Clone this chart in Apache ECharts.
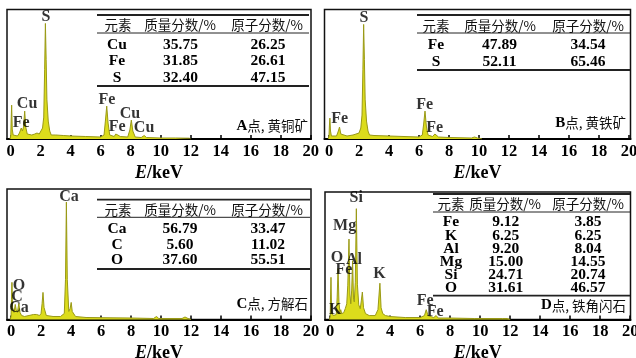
<!DOCTYPE html>
<html>
<head>
<meta charset="utf-8">
<script src="https://cdn.jsdelivr.net/npm/echarts@6/dist/echarts.min.js"></script>
<style>
  html, body { margin: 0; padding: 0; background: #fff; }
  #chart { width: 636px; height: 358px; }
</style>
</head>
<body>
<div id="chart"></div>
<script>
// EDS spectra of four analysis points: energy (keV) vs. relative counts.
const energyTicks = [0, 2, 4, 6, 8, 10, 12, 14, 16, 18, 20];

// Spectrum outlines, [energy keV, counts]
const spectrumA = [
  [-0.05, 0], [0.0, 3], [0.03, 20], [0.06, 34], [0.1, 10], [0.16, 4], [0.45, 3], [0.58, 6], [0.7, 11], [0.78, 8],
  [0.85, 12], [0.93, 28], [1.0, 12], [1.1, 5], [1.4, 4], [1.6, 5], [1.75, 6], [1.9, 5], [2.0, 6],
  [2.12, 11], [2.2, 22], [2.26, 70], [2.31, 116], [2.36, 80], [2.41, 40], [2.5, 18], [2.6, 8],
  [2.7, 4], [3.0, 4], [3.5, 3.5], [4.0, 3], [5.0, 2.5], [6.0, 2], [6.22, 4], [6.31, 18], [6.4, 33],
  [6.49, 16], [6.6, 4], [6.9, 2.5], [7.0, 5], [7.06, 6], [7.14, 4], [7.3, 2.5], [7.8, 2], [7.94, 9], [8.04, 19],
  [8.14, 8], [8.3, 2], [8.7, 1.5], [8.9, 3.5], [9.05, 1.5], [10.0, 1], [11.0, 1], [11.9, 0.8], [12.0, 0]
];
const spectrumB = [
  [-0.05, 0], [0.0, 3], [0.03, 14], [0.06, 21], [0.1, 8], [0.16, 3], [0.5, 3], [0.6, 7], [0.7, 12], [0.79, 5],
  [0.9, 3], [1.2, 3], [1.6, 4], [1.8, 5], [2.0, 6], [2.12, 11], [2.2, 24], [2.26, 70], [2.31, 115],
  [2.36, 80], [2.41, 40], [2.5, 18], [2.6, 8], [2.7, 4], [3.0, 3.5], [4.0, 3], [5.0, 2.5], [6.0, 2],
  [6.22, 4], [6.31, 15], [6.4, 28], [6.49, 13], [6.6, 4], [6.9, 2.5], [7.0, 4], [7.06, 5], [7.14, 3], [7.3, 2],
  [8.0, 1.5], [9.5, 1], [9.7, 2], [9.9, 1], [10.2, 0]
];
const spectrumC = [
  [-0.05, 0], [0.0, 3], [0.03, 20], [0.06, 37], [0.1, 12], [0.2, 7], [0.28, 15], [0.34, 10], [0.42, 7], [0.52, 16],
  [0.6, 7], [0.7, 4], [0.9, 3], [1.2, 4], [1.5, 5], [1.7, 5], [1.9, 4], [2.0, 6], [2.07, 16],
  [2.13, 27], [2.2, 12], [2.35, 4], [2.8, 3], [3.3, 3], [3.55, 6], [3.63, 40], [3.69, 117],
  [3.75, 40], [3.85, 8], [3.94, 11], [4.01, 17], [4.08, 8], [4.3, 3], [5.0, 2], [6.0, 1.8],
  [8.0, 1.5], [9.5, 1], [9.7, 3], [9.85, 1], [11.4, 1], [11.6, 2.5], [11.8, 1], [12.0, 0]
];
const spectrumD = [
  [-0.05, 0], [0.0, 3], [0.02, 25], [0.05, 43], [0.09, 8], [0.2, 4], [0.4, 5], [0.46, 22], [0.52, 52], [0.58, 18],
  [0.65, 7], [0.7, 10], [0.76, 6], [0.9, 7], [1.0, 11], [1.1, 16], [1.17, 35], [1.25, 82], [1.31, 26],
  [1.37, 16], [1.43, 30], [1.49, 60], [1.55, 22], [1.6, 18], [1.67, 38], [1.74, 113], [1.81, 36],
  [1.9, 15], [2.0, 11], [2.07, 19], [2.14, 28], [2.22, 12], [2.35, 6], [2.6, 4], [3.0, 4], [3.18, 10],
  [3.31, 37], [3.39, 12], [3.5, 6], [3.59, 8], [3.68, 4], [4.0, 3], [5.0, 2], [6.0, 2], [6.28, 4],
  [6.4, 10], [6.52, 4], [6.9, 2], [7.06, 4], [7.2, 1.5], [8.0, 1.5], [9.6, 1], [9.7, 2.5], [9.85, 1],
  [11.5, 1], [11.6, 2], [11.8, 1], [12.0, 0]
];

// Element line labels, [name, energy keV, counts]
const peakLabelsA = [['S', 2.35, 123], ['Cu', 1.09, 35], ['Fe', 0.69, 16], ['Fe', 6.42, 39], ['Cu', 7.95, 25], ['Fe', 7.09, 12], ['Cu', 8.89, 11]];
const peakLabelsB = [['S', 2.33, 122], ['Fe', 0.71, 20], ['Fe', 6.38, 34], ['Fe', 7.05, 11]];
const peakLabelsC = [['Ca', 3.87, 122], ['O', 0.53, 34], ['C', 0.4, 23], ['Ca', 0.53, 12]];
const peakLabelsD = [['Si', 1.73, 124], ['Mg', 0.96, 95], ['O', 0.45, 63], ['Al', 1.58, 61], ['Fe', 0.91, 51], ['K', 3.29, 47], ['K', 0.33, 10], ['Fe', 6.33, 19], ['Fe', 7.0, 8]];

// Composition tables
const tableHeader = ['元素', '质量分数/%', '原子分数/%'];
const elementsA = ['Cu', 'Fe', 'S'];
const massA = ['35.75', '31.85', '32.40'];
const atomA = ['26.25', '26.61', '47.15'];
const elementsB = ['Fe', 'S'];
const massB = ['47.89', '52.11'];
const atomB = ['34.54', '65.46'];
const elementsC = ['Ca', 'C', 'O'];
const massC = ['56.79', '5.60', '37.60'];
const atomC = ['33.47', '11.02', '55.51'];
const elementsD = ['Fe', 'K', 'Al', 'Mg', 'Si', 'O'];
const massD = ['9.12', '6.25', '9.20', '15.00', '24.71', '31.61'];
const atomD = ['3.85', '6.25', '8.04', '14.55', '20.74', '46.57'];

// Point captions
const captions = [['A', '点, 黄铜矿'], ['B', '点, 黄铁矿'], ['C', '点, 方解石'], ['D', '点, 铁角闪石']];

const SERIF = '"Liberation Serif", "Times New Roman", serif';
const CJK = '"Noto Sans CJK SC", sans-serif';

const panels = [
  { grid: { left: 7, top: 9.5, width: 304, height: 129.5 }, xmin: -0.25, xmax: 20.02, spec: spectrumA, peaks: peakLabelsA,
    table: { el: elementsA, mass: massA, atom: atomA, x0: 97, x1: 309, top: 15, head: 25, mid: 33, row0: 44.5, step: 16.5, bottom: 86, cols: [117, 180.5, 268], hcols: [118, 180, 267] },
    cap: { x: 308, y: 126 } },
  { grid: { left: 324.5, top: 9.5, width: 306, height: 129.5 }, xmin: -0.3, xmax: 20.1, spec: spectrumB, peaks: peakLabelsB,
    table: { el: elementsB, mass: massB, atom: atomB, x0: 417, x1: 630, top: 15, head: 26, mid: 33, row0: 45, step: 17, bottom: 70, cols: [436, 499.5, 588], hcols: [436, 500, 588] },
    cap: { x: 626, y: 123 } },
  { grid: { left: 7, top: 189, width: 304, height: 130.5 }, xmin: -0.27, xmax: 20.0, spec: spectrumC, peaks: peakLabelsC,
    table: { el: elementsC, mass: massC, atom: atomC, x0: 97, x1: 310, top: 199.7, head: 209.7, mid: 217.3, row0: 229, step: 15.5, bottom: 269, cols: [117, 180, 268], hcols: [118, 180, 267] },
    cap: { x: 308, y: 304 } },
  { grid: { left: 325, top: 192, width: 305.5, height: 127.5 }, xmin: -0.35, xmax: 20.02, spec: spectrumD, peaks: peakLabelsD,
    table: { el: elementsD, mass: massD, atom: atomD, x0: 433, x1: 630, top: 194, head: 204, mid: 212, row0: 222.3, step: 13.2, bottom: 295.7, cols: [451, 505.7, 588], hcols: [451, 505, 588] },
    cap: { x: 626, y: 305.5 } }
];

const chart = echarts.init(document.getElementById('chart'), null, { renderer: 'canvas' });

const grid = [], xAxis = [], yAxis = [], series = [], graphic = [];

panels.forEach((p, i) => {
  grid.push(Object.assign({ show: true, borderColor: '#111', borderWidth: 1.5, backgroundColor: 'transparent', outerBoundsMode: 'none', containLabel: false }, p.grid));
  xAxis.push({
    type: 'value', gridIndex: i, min: p.xmin, max: p.xmax,
    name: '{i|E}{n|/keV}', nameLocation: 'middle', nameGap: 25,
    nameTextStyle: { rich: {
      i: { fontFamily: SERIF, fontStyle: 'italic', fontWeight: 'bold', fontSize: 18, color: '#000' },
      n: { fontFamily: SERIF, fontWeight: 'bold', fontSize: 18, color: '#000' }
    } },
    axisLine: { show: true, onZero: false, lineStyle: { color: '#000', width: 2 } },
    axisTick: { show: true, inside: true, length: 4, customValues: energyTicks, lineStyle: { color: '#000', width: 1.5 } },
    axisLabel: { show: true, customValues: energyTicks, margin: 4, fontFamily: SERIF, fontWeight: 'bold', fontSize: 16.5, color: '#000' },
    splitLine: { show: false }
  });
  yAxis.push({ type: 'value', gridIndex: i, min: 0, max: 130, show: false, splitLine: { show: false } });
  series.push({
    type: 'line', xAxisIndex: i, yAxisIndex: i, data: p.spec, showSymbol: false, symbol: 'none',
    lineStyle: { color: '#999916', width: 1 },
    areaStyle: { color: '#dcdc1c', opacity: 1 },
    silent: true, animation: false, z: 2
  });
  series.push({
    type: 'scatter', xAxisIndex: i, yAxisIndex: i, symbolSize: 0, silent: true, animation: false, z: 5,
    data: p.peaks.map(d => ({ name: d[0], value: [d[1], d[2]] })),
    label: { show: true, position: 'inside', formatter: '{b}', fontFamily: SERIF, fontWeight: 'bold', fontSize: 16, color: '#000' }
  });

  // composition table
  const t = p.table;
  const line = (y, w) => ({ type: 'line', shape: { x1: t.x0, y1: y, x2: t.x1, y2: y }, style: { stroke: '#222', lineWidth: w }, silent: true });
  graphic.push(line(t.top, 1.8), line(t.mid, 1), line(t.bottom, 1.8));
  tableHeader.forEach((h, k) => {
    graphic.push({ type: 'text', x: t.hcols[k], y: t.head, silent: true,
      style: { text: h, font: '13.5px ' + CJK, fill: '#111', align: 'center', verticalAlign: 'middle' } });
  });
  t.el.forEach((e, r) => {
    const y = t.row0 + r * t.step;
    [e, t.mass[r], t.atom[r]].forEach((s, k) => {
      graphic.push({ type: 'text', x: t.cols[k], y: y, silent: true,
        style: { text: s, font: 'bold 15.5px ' + SERIF, fill: '#000', align: 'center', verticalAlign: 'middle' } });
    });
  });

  // caption
  graphic.push({ type: 'text', x: p.cap.x, y: p.cap.y, silent: true,
    style: { text: '{a|' + captions[i][0] + '}{b|' + captions[i][1] + '}', align: 'right', verticalAlign: 'middle',
      rich: { a: { fontFamily: SERIF, fontWeight: 'bold', fontSize: 15, fill: '#000' }, b: { fontFamily: CJK, fontSize: 13.5, fill: '#111' } } } });
});

chart.setOption({ animation: false, backgroundColor: '#fff', grid, xAxis, yAxis, series, graphic });
</script>
</body>
</html>
